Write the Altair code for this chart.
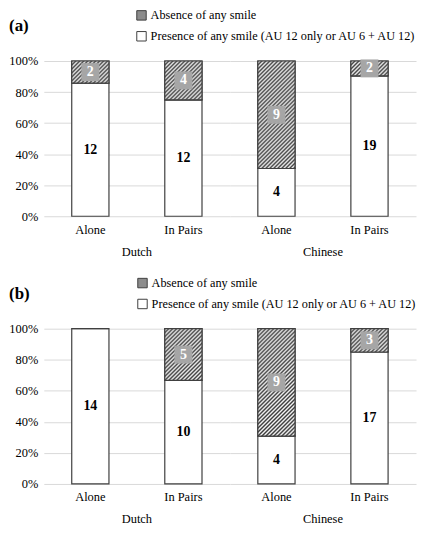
import altair as alt
import pandas as pd

# ---- data ----
countries = ["Dutch", "Dutch", "Chinese", "Chinese"]
conditions = ["Alone", "In Pairs", "Alone", "In Pairs"]
presence_a = [12, 12, 4, 19]
absence_a = [2, 4, 9, 2]
presence_b = [14, 10, 4, 17]
absence_b = [0, 5, 9, 3]
ABS = "Absence of any smile"
PRES = "Presence of any smile (AU 12 only or AU 6 + AU 12)"
country_order = ["Dutch", "Chinese"]
condition_order = ["Alone", "In Pairs"]
y_ticks = [0, 0.2, 0.4, 0.6, 0.8, 1.0]


def long_df(pres, absn):
    rows = []
    for c, k, p, a in zip(countries, conditions, pres, absn):
        rows.append({"country": c, "condition": k, "series": PRES, "count": p, "ord": 0})
        rows.append({"country": c, "condition": k, "series": ABS, "count": a, "ord": 1})
    return pd.DataFrame(rows)


FONT = "Liberation Serif"
FS = 12.5
H = 156
CW = 187
BW = CW / 2 * 0.4

# diagonal hatch as a striped linear gradient (style only)
N = 60
S = 240
DARK = "#3c3c3c"
stops = []
for i in range(N):
    a = i / N
    b = (i + 0.5) / N
    stops += [
        f"{{offset:{a:.4f},color:'{DARK}'}}",
        f"{{offset:{b:.4f},color:'#f4f4f4'}}",
    ]
den = f"({BW}*{BW}+datum.hpx*datum.hpx)"
hatch_expr = (
    "{gradient:'linear',x1:0,y1:0,"
    f"x2:{S}*{BW}/{den},y2:{S}*datum.hpx/{den},"
    f"stops:[{','.join(stops)}]}}"
)

yaxis = alt.Axis(
    title=None, format=".0%", values=y_ticks, labelOverlap=False,
    ticks=False, domain=False, labelPadding=6, gridColor="#d9d9d9",
)
yscale = alt.Scale(domain=[0, 1], nice=False)


def panel(df, label):
    base = (
        alt.Chart()
        .transform_joinaggregate(total="sum(count)", groupby=["country", "condition"])
        .transform_calculate(frac="datum.count/datum.total")
        .transform_stack(
            stack="frac",
            groupby=["country", "condition"],
            sort=[alt.SortField("ord", order="ascending")],
            as_=["y0", "y1"],
        )
        .transform_calculate(mid="(datum.y0+datum.y1)/2", hpx=f"(datum.y1-datum.y0)*{H}")
    )
    x = alt.X(
        "condition:N",
        sort=condition_order,
        scale=alt.Scale(paddingInner=0.6, paddingOuter=0.3),
        axis=alt.Axis(title=None, labelAngle=0, ticks=False, domain=False, labelPadding=6, grid=False),
    )
    y = alt.Y("y0:Q", scale=yscale, axis=yaxis)
    ymid = alt.Y("mid:Q", scale=yscale, axis=yaxis)
    bars = base.mark_bar(stroke="#404040", strokeWidth=1.2).encode(
        x=x,
        y=y,
        y2="y1:Q",
        fill=alt.Fill(
            "series:N",
            scale=alt.Scale(domain=[ABS, PRES], range=["#8c8c8c", "#ffffff"]),
            legend=alt.Legend(
                title=label, titleOrient="left", titleFont=FONT, titleFontSize=17,
                titleFontWeight="bold", titleColor="black", titleAnchor="middle",
                titleBaseline="middle", titlePadding=107,
                orient="none", legendX=-35, legendY=-52,
                symbolType="square", symbolSize=90, symbolStrokeColor="#404040",
                symbolStrokeWidth=1, labelFont=FONT, labelFontSize=12.3,
                labelColor="black", rowPadding=7, labelLimit=400, labelOffset=3,
            ),
        ),
    )
    hatch = (
        base.transform_filter(f"datum.series == '{ABS}' && datum.count > 0")
        .mark_bar(stroke="#404040", strokeWidth=1.2, fill=alt.ExprRef(hatch_expr))
        .encode(x=x, y=y, y2="y1:Q")
    )
    box = (
        base.transform_filter(f"datum.series == '{ABS}' && datum.count > 0")
        .mark_square(size=324, color="#a6a6a6", opacity=1)
        .encode(x=x, y=ymid)
    )
    abs_txt = (
        base.transform_filter(f"datum.series == '{ABS}' && datum.count > 0")
        .mark_text(font=FONT, fontSize=14, fontWeight="bold", color="white", baseline="middle")
        .encode(x=x, y=ymid, text="count:Q")
    )
    pres_txt = (
        base.transform_filter(f"datum.series == '{PRES}' && datum.count > 0")
        .mark_text(font=FONT, fontSize=14, fontWeight="bold", color="black", baseline="middle")
        .encode(x=x, y=ymid, text="count:Q")
    )
    layered = alt.layer(bars, hatch, box, abs_txt, pres_txt, data=df).properties(width=CW, height=H)
    return layered.facet(
        column=alt.Column(
            "country:N",
            sort=country_order,
            title=None,
            header=alt.Header(labelOrient="bottom", labelFont=FONT, labelFontSize=FS,
                              labelColor="black", labelPadding=10),
        ),
        spacing=0,
    )


pa = panel(long_df(presence_a, absence_a), "(a)")
pb = panel(long_df(presence_b, absence_b), "(b)")

chart = (
    alt.vconcat(pa, pb, spacing=19)
    .resolve_legend(fill="independent")
    .properties(padding={"left": 0, "top": 0, "right": 0, "bottom": 0})
    .configure_view(stroke=None)
    .configure_axis(labelFont=FONT, labelFontSize=FS, labelColor="black")
)

chart.save("out.html", embed_options={"renderer": "svg", "actions": False})
